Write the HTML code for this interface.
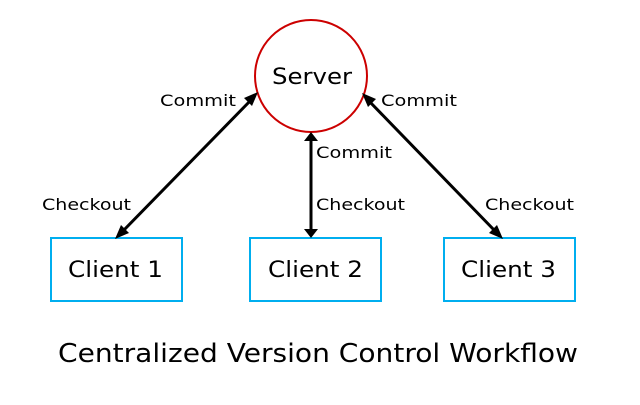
<!DOCTYPE html>
<html><head><style>body{margin:0;background:#fff}</style></head><body>
<svg width="640" height="400" xmlns="http://www.w3.org/2000/svg" font-family="DejaVu Sans, sans-serif">
<rect width="640" height="400" fill="#fff"/>
<circle cx="311" cy="76" r="56" fill="#fff" stroke="#cc0000" stroke-width="2"/>
<text x="272" y="84" font-size="22" textLength="80" lengthAdjust="spacingAndGlyphs">Server</text>
<g fill="#fff" stroke="#00aeef" stroke-width="2">
<rect x="51" y="238" width="131" height="63"/>
<rect x="250" y="238" width="131" height="63"/>
<rect x="444" y="238" width="131" height="63"/>
</g>
<g font-size="22">
<text x="68" y="277" textLength="95" lengthAdjust="spacingAndGlyphs">Client 1</text>
<text x="268" y="277" textLength="95" lengthAdjust="spacingAndGlyphs">Client 2</text>
<text x="461" y="277" textLength="95" lengthAdjust="spacingAndGlyphs">Client 3</text>
</g>
<g stroke="#000" stroke-width="3">
<line x1="122" y1="232" x2="252" y2="99"/>
<line x1="311" y1="141" x2="311" y2="229"/>
<line x1="368" y1="100" x2="496" y2="232"/>
</g>
<g fill="#000">
<polygon points="258,92 244,98 252,106"/>
<polygon points="115,239 121,225 129,233"/>
<polygon points="311,132 304,141 318,141"/>
<polygon points="311,238 304,229 318,229"/>
<polygon points="362,93 376,99 368,107"/>
<polygon points="503,239 489,233 497,225"/>
</g>
<g font-size="16">
<text x="160" y="106" textLength="76" lengthAdjust="spacingAndGlyphs">Commit</text>
<text x="381" y="106" textLength="76" lengthAdjust="spacingAndGlyphs">Commit</text>
<text x="316" y="158" textLength="76" lengthAdjust="spacingAndGlyphs">Commit</text>
<text x="316" y="210" textLength="89" lengthAdjust="spacingAndGlyphs">Checkout</text>
<text x="42" y="210" textLength="89" lengthAdjust="spacingAndGlyphs">Checkout</text>
<text x="485" y="210" textLength="89" lengthAdjust="spacingAndGlyphs">Checkout</text>
</g>
<text x="58" y="362" font-size="26" textLength="520" lengthAdjust="spacingAndGlyphs">Centralized Version Control Workflow</text>
</svg>
</body></html>
